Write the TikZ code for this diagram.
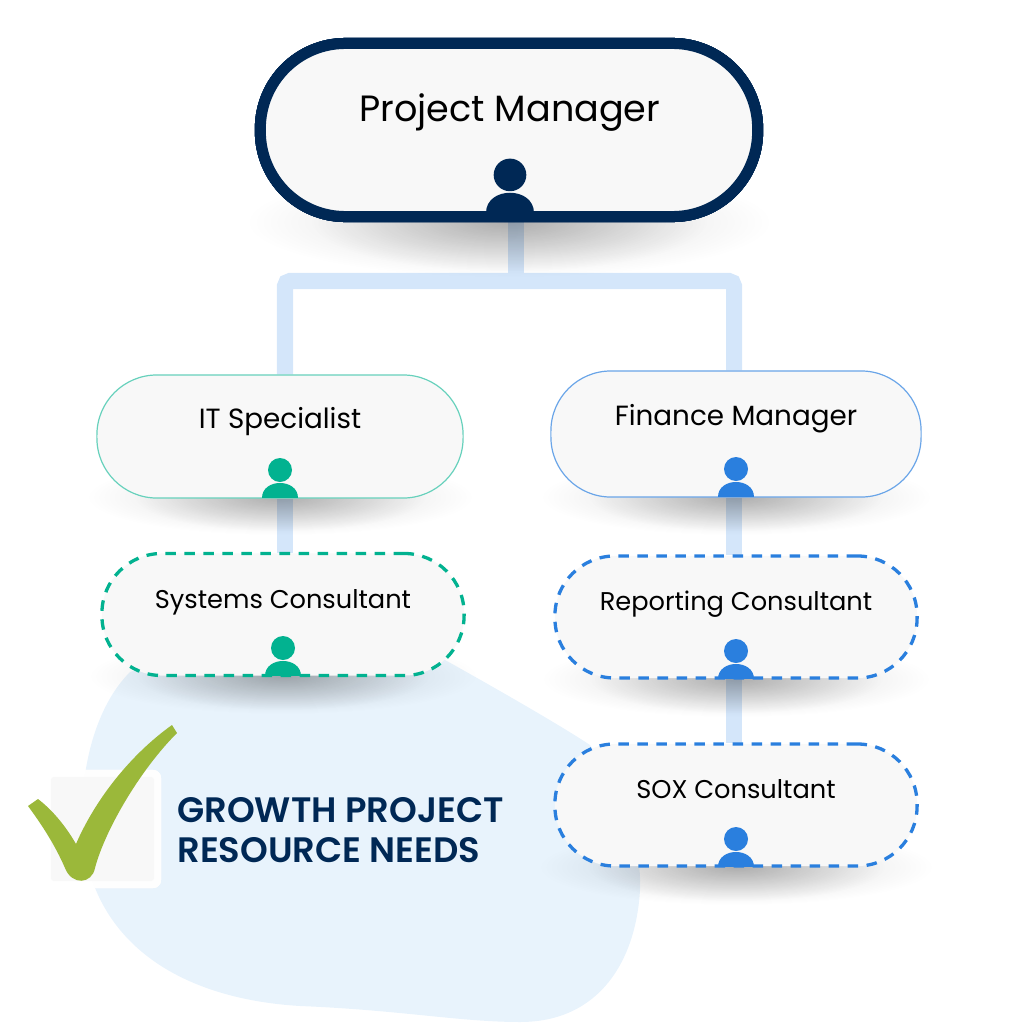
\documentclass[tikz,border=0pt]{standalone}
\usepackage{fontspec}
\setmainfont{Poppins}[BoldFont=* SemiBold]
\usetikzlibrary{fadings}
\definecolor{navy}{HTML}{002855}
\definecolor{teal}{HTML}{02B290}
\definecolor{sky}{HTML}{2A7FDE}
\definecolor{paleLink}{HTML}{D4E6FA}
\definecolor{paleBlob}{HTML}{E8F3FC}
\definecolor{paper}{HTML}{F8F8F8}
\definecolor{tick}{HTML}{9BB83A}
\tikzfading[name=shadowfade, inner color=transparent!85, outer color=transparent!100]
\tikzfading[name=shadowcore, inner color=transparent!80, outer color=transparent!100]
\tikzset{
	outline/.style={rectangle,inner sep=0pt},
	pmsize/.style={outline,minimum width=4.97cm,minimum height=1.73cm},
	itsize/.style={outline,minimum width=3.66cm,minimum height=1.23cm},
	finsize/.style={outline,minimum width=3.70cm,minimum height=1.26cm},
	dashsize/.style={outline,minimum width=3.62cm,minimum height=1.22cm},
	pill/.style={draw,fill=paper,rounded corners=0.6cm},
	dashpill/.style={pill,dashsize,line width=0.033cm,dash pattern=on 0.105cm off 0.085cm},
	thinpill/.style={pill,line width=0.012cm},
	linkline/.style={paleLink,line width=0.16cm,rounded corners=0.05cm},
	caption/.style={font=\fontsize{7.3}{9}\selectfont,text=black},
	bigcaption/.style={font=\fontsize{7.9}{9}\selectfont,text=black}
}
% shadow under a pill: x, y, half width, half height
\newcommand{\softunder}[4]{
	\fill[black,path fading=shadowfade] (#1,#2) ellipse (#3 and #4);
	\fill[black,path fading=shadowcore] (#1,#2) ellipse (0.75*#3 and 0.9*#4);
}
% person icon: x, y of its foot, size, colour
\newcommand{\personicon}[4]{
	\fill[#4] (#1,#2-28*#3) circle (12*#3);
	\fill[#4] (#1-18*#3,#2) .. controls (#1-18*#3,#2-20*#3) and (#1+18*#3,#2-20*#3) .. (#1+18*#3,#2) -- cycle;
}
\begin{document}
\begin{tikzpicture}[x=0.01cm,y=-0.01cm]
	\useasboundingbox (0,0) rectangle (1024,1024);
	%%%%%%%%%%%%%%%%%%%
	%      blob       %
	%%%%%%%%%%%%%%%%%%%
		\fill[paleBlob] (130,672) .. controls (200,650) and (380,640) .. (445,660)
			.. controls (490,685) and (560,725) .. (590,745)
			.. controls (620,790) and (642,840) .. (640,890)
			.. controls (636,960) and (600,1022) .. (520,1022)
			.. controls (460,1022) and (400,1010) .. (300,1006)
			.. controls (200,1000) and (120,960) .. (92,880)
			.. controls (72,820) and (82,720) .. (130,672) -- cycle;
	%%%%%%%%%%%%%%%%%%%
	%    connectors   %
	%%%%%%%%%%%%%%%%%%%
		% the links go behind the pills, so only their outlines come first
		\node (pm) [pmsize] at (509,130) {};
		\node (it) [itsize] at (280,436.5) {};
		\node (fin) [finsize] at (736,434) {};
		\node (sys) [dashsize] at (283,614.5) {};
		\node (rep) [dashsize] at (736,617) {};
		\node (sox) [dashsize] at (736,805) {};
		\coordinate (trunk) at (516,281);
		\coordinate (itdrop) at (285,281);
		\coordinate (findrop) at (734,281);
		\draw[linkline] (trunk |- pm.south) -- (trunk);
		\draw[linkline] (itdrop |- it.north) -- (itdrop) -- (findrop) -- (findrop |- fin.north);
		\draw[linkline] (itdrop |- it.south) -- (itdrop |- sys.north);
		\draw[linkline] (findrop |- fin.south) -- (findrop |- rep.north);
		\draw[linkline] (findrop |- rep.south) -- (findrop |- sox.north);
	%%%%%%%%%%%%%%%%%%%
	%      nodes      %
	%%%%%%%%%%%%%%%%%%%
		% shadows
		\softunder{509}{222}{262}{55}
		\foreach \x/\y/\w in {280/497/193,736/497/195,283/676/194,736/679/194,736/867/197}
			\softunder{\x}{\y}{\w}{38}
		% top pill
		\node (pmbox) [pmsize,pill,draw=navy,line width=0.11cm,rounded corners=0.85cm] at (pm) {};
		\node (pmtext) [font=\fontsize{10.4}{13}\selectfont,text=black] at (510,113) {Project Manager};
		\personicon{510}{213}{1.36}{navy}
		% second row
		\node (itbox) [itsize,thinpill,draw=teal!60] at (it) {};
		\node (finbox) [finsize,thinpill,draw=sky!70] at (fin) {};
		% dashed pills
		\node (sysbox) [dashpill,draw=teal] at (sys) {};
		\node (repbox) [dashpill,draw=sky] at (rep) {};
		\node (soxbox) [dashpill,draw=sky] at (sox) {};
		% texts
		\node (ittext) [bigcaption] at (280,422) {IT Specialist};
		\node (fintext) [bigcaption] at (736,419) {Finance Manager};
		\foreach \tname/\x/\y/\txt in {systext/283/602/Systems Consultant,reptext/736/604/Reporting Consultant,soxtext/736/789/SOX Consultant}
			\node (\tname) [caption] at (\x,\y) {\txt};
		% icons
		\foreach \x/\y/\c in {280/498/teal,283/676/teal,736/497/sky,736/679/sky,736/867/sky}
			\personicon{\x}{\y}{1}{\c}
	%%%%%%%%%%%%%%%%%%%
	%    checkbox     %
	%%%%%%%%%%%%%%%%%%%
		\node (boxouter) [outline,fill=white,fill opacity=0.75,rounded corners=0.08cm,minimum width=1.17cm,minimum height=1.18cm] at (102.5,829) {};
		\node (boxinner) [outline,fill=paper,rounded corners=0.03cm,minimum width=1.03cm,minimum height=1.04cm] at (102.5,829) {};
		\fill[tick] (28,806) -- (38,799) .. controls (55,812) and (68,830) .. (76,844)
			.. controls (95,800) and (130,755) .. (172,725) -- (177,733)
			.. controls (140,770) and (105,830) .. (95,868)
			.. controls (92,884) and (72,886) .. (65,868)
			.. controls (55,845) and (42,825) .. (28,806) -- cycle;
		\node (needs) [anchor=west,align=left,text=navy,font=\fontsize{10.05}{11.2}\selectfont\bfseries] at (165,830) {GROWTH PROJECT\\RESOURCE NEEDS};
\end{tikzpicture}
\end{document}
